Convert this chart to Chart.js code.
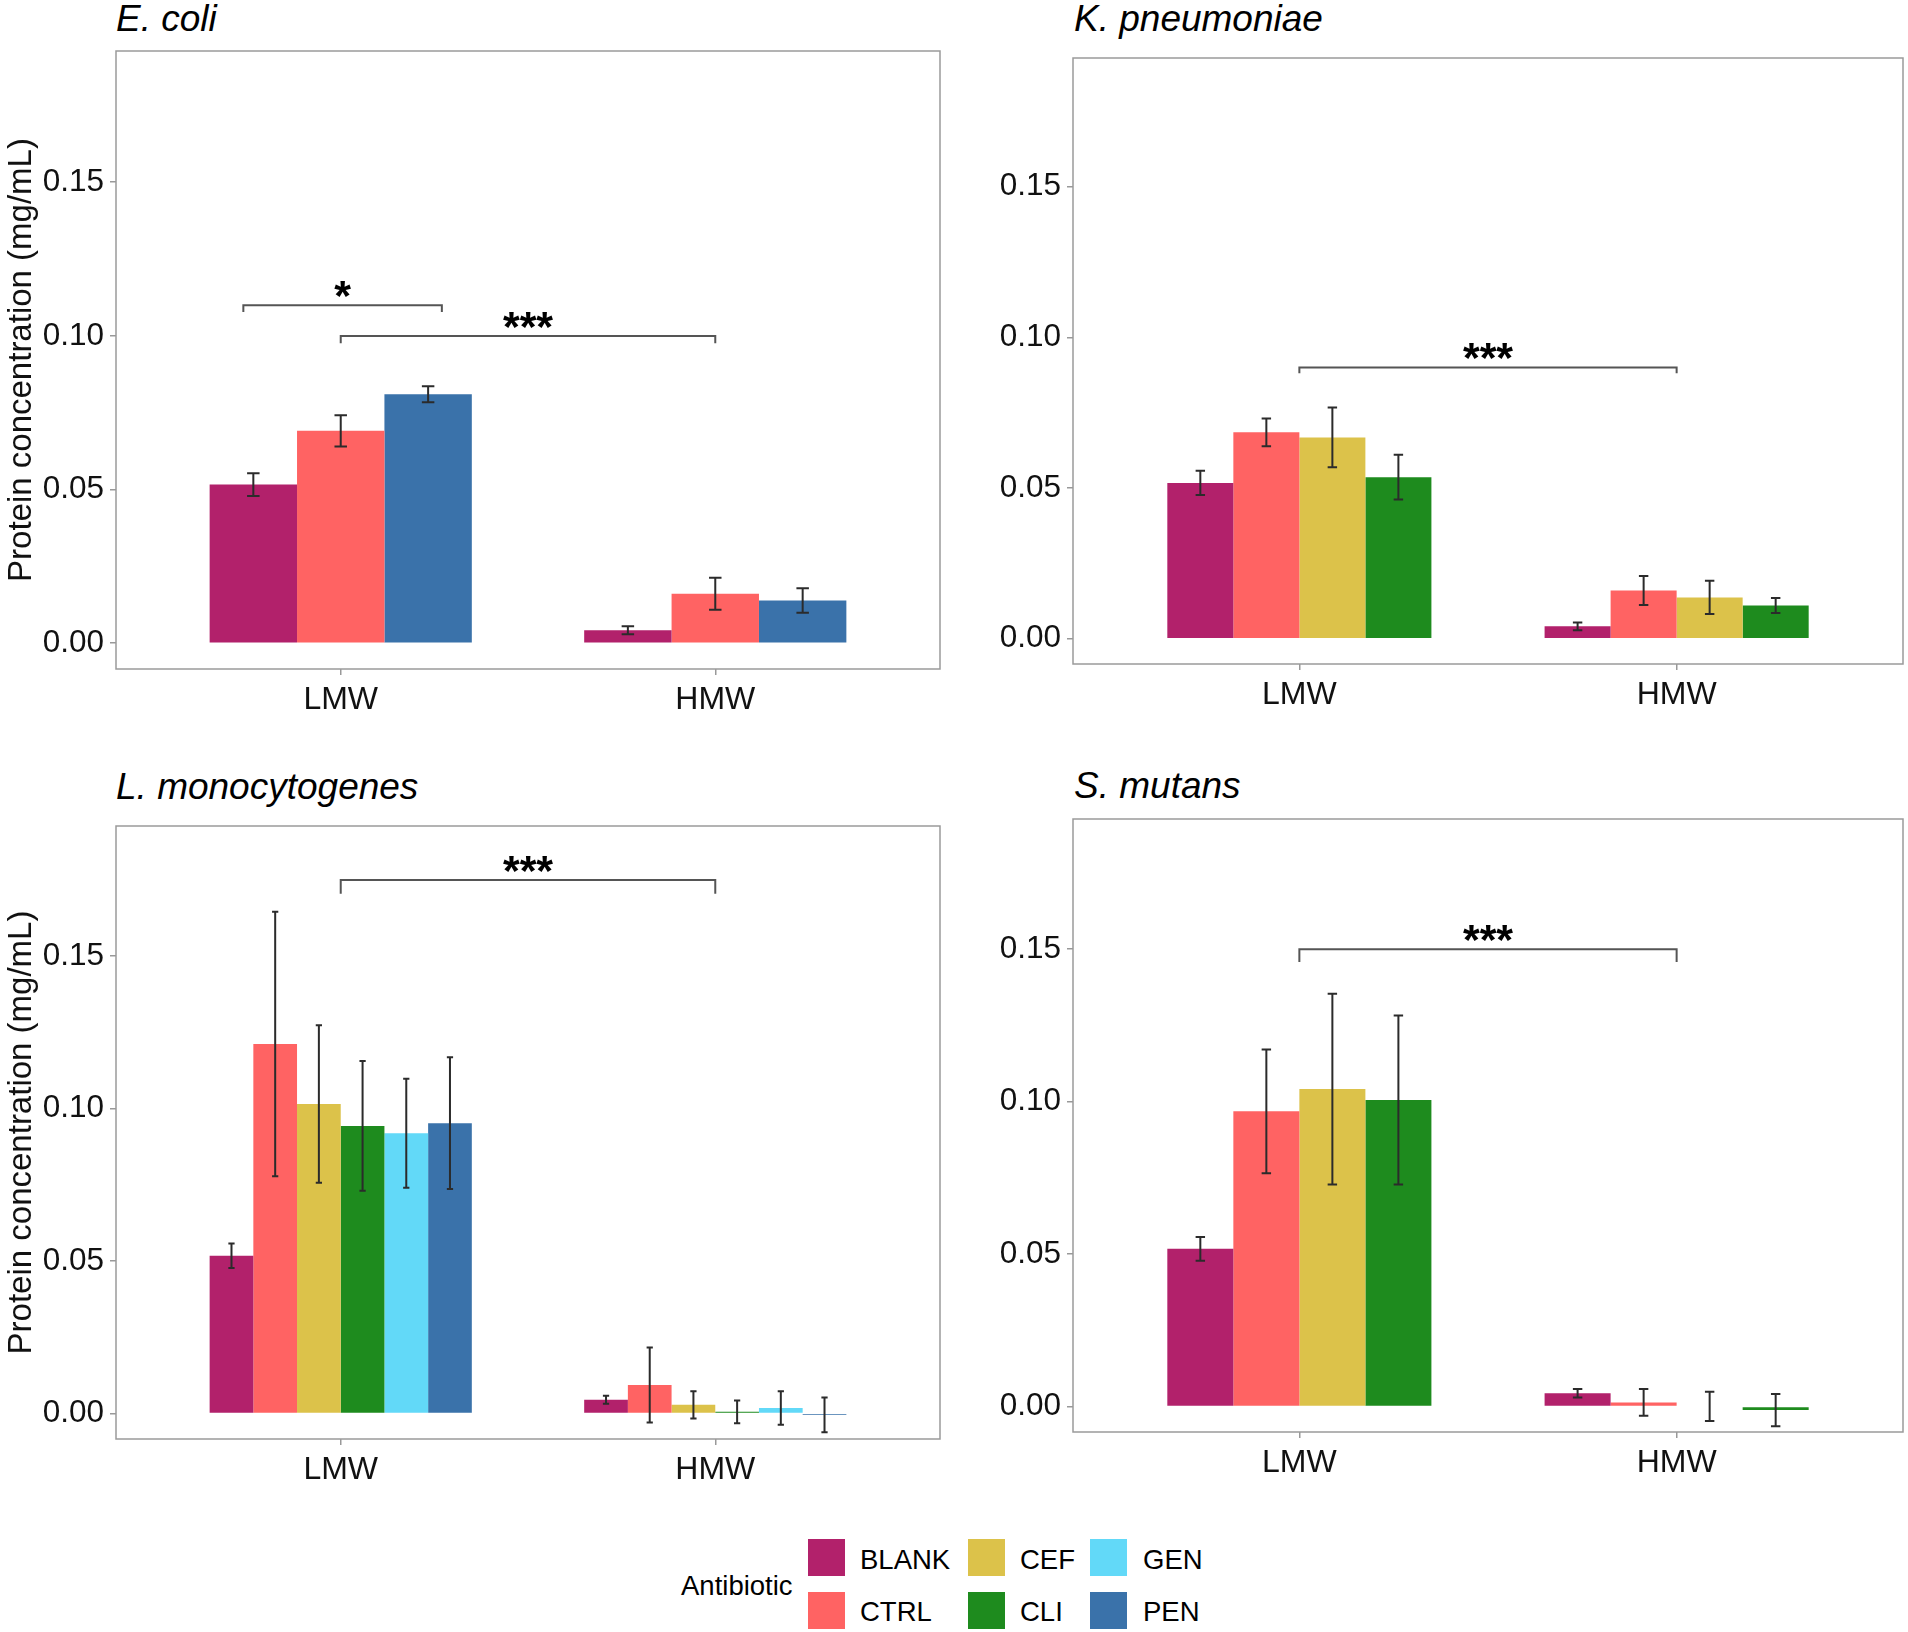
<!DOCTYPE html>
<html>
<head>
<meta charset="utf-8">
<script src="https://cdn.jsdelivr.net/npm/chart.js@4.4.1/dist/chart.umd.min.js"></script>
<style>
  body { margin: 0; background: #fff; width: 1908px; height: 1632px; position: relative; overflow: hidden;
         font-family: "Liberation Sans", Arial, sans-serif; }
  canvas { position: absolute; }
  .title { position: absolute; font-style: italic; font-size: 37px; line-height: 37px; color: #000; white-space: nowrap; }
  .leg { position: absolute; font-size: 27.5px; line-height: 27.5px; color: #000; white-space: nowrap; }
  .key { position: absolute; width: 37px; height: 37px; }
</style>
</head>
<body>

<div class="title" style="left:116px; top:0px;">E. coli</div>
<div class="title" style="left:1074px; top:0px;">K. pneumoniae</div>
<div class="title" style="left:116px; top:768px;">L. monocytogenes</div>
<div class="title" style="left:1074px; top:767px;">S. mutans</div>

<canvas id="ecoli"></canvas>
<canvas id="kpn"></canvas>
<canvas id="lmono"></canvas>
<canvas id="smut"></canvas>

<div id="legend"></div>

<script>
const groups = ['LMW', 'HMW'];
const abxNames = ['BLANK', 'CTRL', 'CEF', 'CLI', 'GEN', 'PEN'];
const abxColors = ['#B2216B', '#FF6363', '#DCC24A', '#1E8B1E', '#62D9F8', '#3A72AA'];
const yTicks = [0, 0.05, 0.10, 0.15];

// E. coli
const ecoliAbx = ['BLANK', 'CTRL', 'PEN'];
const ecoliLMW = [0.0516, 0.0691, 0.0810];
const ecoliLMWse = [0.0037, 0.0051, 0.0026];
const ecoliHMW = [0.0042, 0.0161, 0.0139];
const ecoliHMWse = [0.0013, 0.0052, 0.0040];
const ecoliSig = [[0.74, 1.27, 0.110, 0.0022, '*'], [1, 2, 0.100, 0.0024, '***']];

// K. pneumoniae
const kpnAbx = ['BLANK', 'CTRL', 'CEF', 'CLI'];
const kpnLMW = [0.0517, 0.0685, 0.0668, 0.0536];
const kpnLMWse = [0.0040, 0.0046, 0.0099, 0.0074];
const kpnHMW = [0.0041, 0.0160, 0.0137, 0.0110];
const kpnHMWse = [0.0013, 0.0048, 0.0055, 0.0025];
const kpnSig = [[1, 2, 0.090, 0.0019, '***']];

// L. monocytogenes
const lmonoAbx = ['BLANK', 'CTRL', 'CEF', 'CLI', 'GEN', 'PEN'];
const lmonoLMW = [0.0517, 0.1212, 0.1015, 0.0943, 0.0919, 0.0952];
const lmonoLMWse = [0.0040, 0.0434, 0.0258, 0.0213, 0.0179, 0.0216];
const lmonoHMW = [0.0045, 0.0093, 0.0028, 0.0005, 0.0018, -0.0005];
const lmonoHMWse = [0.0013, 0.0123, 0.0045, 0.0037, 0.0055, 0.0057];
const lmonoSig = [[1, 2, 0.175, 0.0045, '***']];

// S. mutans
const smutAbx = ['BLANK', 'CTRL', 'CEF', 'CLI'];
const smutLMW = [0.0517, 0.0968, 0.1041, 0.1005];
const smutLMWse = [0.0039, 0.0203, 0.0313, 0.0277];
const smutHMW = [0.0043, 0.0013, 0.0000, -0.0012];
const smutHMWse = [0.0014, 0.0044, 0.0048, 0.0053];
const smutSig = [[1, 2, 0.150, 0.0042, '***']];

const FONT = '"Liberation Sans", Arial, sans-serif';
Chart.defaults.font.family = FONT;
Chart.defaults.color = '#111';

const Y_AXIS_W = 116;
const X_AXIS_H = 70;
const PAD_T = 6, PAD_R = 5;

// error bars, significance brackets and the panel frame
const decorations = {
  id: 'decorations',
  afterDatasetsDraw(chart) {
    const ctx = chart.ctx;
    const xs = chart.scales.x, ys = chart.scales.y;
    const area = chart.chartArea;
    const n = chart.data.datasets.length;
    const unit = xs.getPixelForValue(2) - xs.getPixelForValue(1);
    const half = 0.05 / n * unit;

    ctx.save();
    ctx.strokeStyle = '#2b2b2b';
    ctx.lineWidth = 2;
    chart.data.datasets.forEach((ds, i) => {
      chart.getDatasetMeta(i).data.forEach((el, j) => {
        const m = ds.data[j].y, se = ds.errors[j];
        const y1 = ys.getPixelForValue(m + se), y2 = ys.getPixelForValue(m - se);
        ctx.beginPath();
        ctx.moveTo(el.x, y1); ctx.lineTo(el.x, y2);
        ctx.moveTo(el.x - half, y1); ctx.lineTo(el.x + half, y1);
        ctx.moveTo(el.x - half, y2); ctx.lineTo(el.x + half, y2);
        ctx.stroke();
      });
    });

    const sig = chart.options.plugins.decorations.sig;
    sig.forEach(([a, b, yv, tip, label]) => {
      const x1 = xs.getPixelForValue(a), x2 = xs.getPixelForValue(b);
      const y = ys.getPixelForValue(yv), yt = ys.getPixelForValue(yv - tip);
      ctx.strokeStyle = '#555';
      ctx.lineWidth = 2;
      ctx.beginPath();
      ctx.moveTo(x1, yt); ctx.lineTo(x1, y); ctx.lineTo(x2, y); ctx.lineTo(x2, yt);
      ctx.stroke();
      ctx.fillStyle = '#000';
      ctx.font = 'bold 43px ' + FONT;
      ctx.textAlign = 'center';
      ctx.textBaseline = 'alphabetic';
      ctx.fillText(label, (x1 + x2) / 2, y + 5);
    });

    ctx.strokeStyle = '#9a9a9a';
    ctx.lineWidth = 1.5;
    ctx.strokeRect(area.left, area.top, area.right - area.left, area.bottom - area.top);
    ctx.restore();
  }
};

function noPad(s) {
  s.paddingTop = 0; s.paddingBottom = 0; s.paddingLeft = 0; s.paddingRight = 0;
}

function makePanel(id, box, abx, lmw, lmwSe, hmw, hmwSe, sig, yTitle) {
  const cv = document.getElementById(id);
  const w = (box.r - box.l) + Y_AXIS_W + PAD_R;
  const h = (box.b - box.t) + PAD_T + X_AXIS_H;
  cv.width = w; cv.height = h;
  cv.style.left = (box.l - Y_AXIS_W) + 'px';
  cv.style.top = (box.t - PAD_T) + 'px';
  cv.style.width = w + 'px'; cv.style.height = h + 'px';

  const datasets = abx.map((name, i) => ({
    label: name,
    data: [{ x: 1, y: lmw[i] }, { x: 2, y: hmw[i] }],
    errors: [lmwSe[i], hmwSe[i]],
    backgroundColor: abxColors[abxNames.indexOf(name)],
    borderWidth: 0,
    categoryPercentage: 0.7,
    barPercentage: 1.0
  }));

  return new Chart(cv, {
    type: 'bar',
    data: { datasets },
    plugins: [decorations],
    options: {
      responsive: false,
      animation: false,
      events: [],
      layout: { padding: { top: PAD_T, right: PAD_R, left: 0, bottom: 0 } },
      plugins: {
        legend: { display: false },
        tooltip: { enabled: false },
        decorations: { sig }
      },
      scales: {
        x: {
          type: 'linear',
          min: 0.4, max: 2.6,
          offset: false,
          grid: { offset: false, drawOnChartArea: false, drawTicks: true, tickLength: 6, color: '#999', lineWidth: 1.5 },
          border: { display: false },
          afterBuildTicks: (s) => { s.ticks = groups.map((g, i) => ({ value: i + 1 })); },
          afterFit: (s) => { s.height = X_AXIS_H; noPad(s); },
          ticks: {
            font: { size: 32 }, color: '#111', padding: 6, maxRotation: 0,
            callback: (v) => groups[v - 1]
          }
        },
        y: {
          min: -0.0084, max: 0.1927,
          grid: { drawOnChartArea: false, drawTicks: true, tickLength: 6, color: '#999', lineWidth: 1.5 },
          border: { display: false },
          afterBuildTicks: (s) => { s.ticks = yTicks.map(v => ({ value: v })); },
          afterFit: (s) => { s.width = Y_AXIS_W; noPad(s); },
          ticks: {
            font: { size: 31.5 }, color: '#111', padding: 6,
            callback: (v) => Number(v).toFixed(2)
          },
          title: {
            display: yTitle,
            text: 'Protein concentration (mg/mL)',
            font: { size: 33 }, color: '#111',
            padding: { top: 2, bottom: 0 }
          }
        }
      }
    }
  });
}

makePanel('ecoli', { l: 116, t: 51, r: 940, b: 669 }, ecoliAbx, ecoliLMW, ecoliLMWse, ecoliHMW, ecoliHMWse, ecoliSig, true);
makePanel('kpn', { l: 1073, t: 58, r: 1903, b: 664 }, kpnAbx, kpnLMW, kpnLMWse, kpnHMW, kpnHMWse, kpnSig, false);
makePanel('lmono', { l: 116, t: 826, r: 940, b: 1439 }, lmonoAbx, lmonoLMW, lmonoLMWse, lmonoHMW, lmonoHMWse, lmonoSig, true);
makePanel('smut', { l: 1073, t: 819, r: 1903, b: 1432 }, smutAbx, smutLMW, smutLMWse, smutHMW, smutHMWse, smutSig, false);

// shared legend: 3 columns x 2 rows, filled column by column
const legend = document.getElementById('legend');
const keyX = [808, 968, 1090];
const labelX = [860, 1020, 1143];
const keyY = [1539, 1592];
const labelTop = [1546, 1598];
let html = '<div class="leg" style="left:681px; top:1572px;">Antibiotic</div>';
abxNames.forEach((name, i) => {
  const c = Math.floor(i / 2), r = i % 2;
  html += `<div class="key" style="left:${keyX[c]}px; top:${keyY[r]}px; background:${abxColors[i]};"></div>`;
  html += `<div class="leg" style="left:${labelX[c]}px; top:${labelTop[r]}px;">${name}</div>`;
});
legend.innerHTML = html;
</script>
</body>
</html>
